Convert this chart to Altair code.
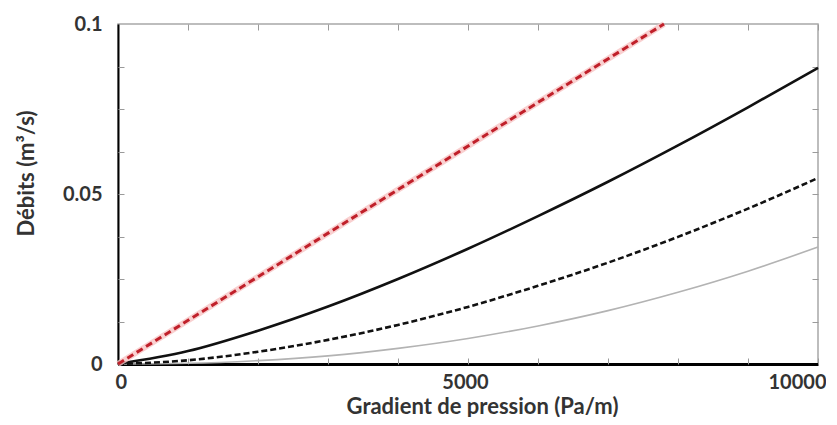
import altair as alt
import pandas as pd

# Pressure gradient (Pa/m)
x_vals = [0, 1000, 2000, 3000, 4000, 5000, 6000, 7000, 8000, 9000, 10000]
# Flow rates (m3/s)
q_solid = [0, 0.0038, 0.0098, 0.0169, 0.0250, 0.0339, 0.0435, 0.0536, 0.0643, 0.0755, 0.0871]
q_dashed = [0, 0.0011, 0.0036, 0.0071, 0.0115, 0.0168, 0.0230, 0.0298, 0.0374, 0.0457, 0.0547]
q_gray = [0, 0.0002, 0.0010, 0.0024, 0.0046, 0.0075, 0.0112, 0.0157, 0.0211, 0.0273, 0.0344]
red_x = [0, 7800]
red_q = [0, 0.1]

x_ticks = [0, 1000, 2000, 3000, 4000, 5000, 6000, 7000, 8000, 9000, 10000]
x_labels = [0, 5000, 10000]
y_ticks = [0.0125, 0.025, 0.0375, 0.05, 0.0625, 0.075, 0.0875]
y_labels = [0, 0.05, 0.1]

df = pd.DataFrame({"x": x_vals, "solid": q_solid, "dashed": q_dashed, "gray": q_gray})
red = pd.DataFrame({"x": red_x, "q": red_q})

FONT = "Lato"
TXT = "#333333"
TICK = "#9a9a9a"

xs = alt.Scale(domain=[0, 10000], nice=False, zero=False)
ys = alt.Scale(domain=[0, 0.1], nice=False)

main_x = alt.Axis(
    orient="bottom", values=x_labels, format="d", ticks=False, tickSize=0, grid=False,
    domainColor="black", domainWidth=3,
    labelFont=FONT, labelFontSize=20, labelFontWeight="bold", labelColor=TXT,
    labelPadding=8,
    labelOffset={"condition": {"test": "datum.value == 10000", "value": 8}, "value": -3},
    title="Gradient de pression (Pa/m)", titleFont=FONT, titleFontSize=22,
    titleFontWeight="bold", titleColor=TXT, titlePadding=4, titleX=364,
)
main_y = alt.Axis(
    orient="left", values=y_labels, format=".2~f", ticks=False, tickSize=0, grid=False,
    domainColor="black", domainWidth=2,
    labelFont=FONT, labelFontSize=20, labelFontWeight="bold", labelColor=TXT,
    labelPadding=16,
    title="Débits (m³/s)", titleFont=FONT, titleFontSize=22,
    titleFontWeight="bold", titleColor=TXT, titlePadding=24, titleY=149,
)


def tick_axis(orient, vals):
    return alt.Axis(orient=orient, values=vals, offset=-6, tickSize=6, tickColor=TICK,
                    tickWidth=1, domain=False, labels=False, grid=False, title="")


gray = alt.Chart(df).mark_line(color="#b3b3b3", strokeWidth=1.6, interpolate="monotone").encode(
    x=alt.X("x:Q", scale=xs, axis=main_x),
    y=alt.Y("gray:Q", scale=ys, axis=main_y),
)
dashed = alt.Chart(df).mark_line(color="#111111", strokeWidth=2.6, strokeDash=[6, 3],
                                 interpolate="monotone").encode(
    x=alt.X("x:Q", scale=xs, axis=tick_axis("bottom", x_ticks)),
    y=alt.Y("dashed:Q", scale=ys, axis=tick_axis("left", y_ticks)),
)
solid = alt.Chart(df).mark_line(color="#111111", strokeWidth=2.6, interpolate="monotone").encode(
    x=alt.X("x:Q", scale=xs, axis=tick_axis("top", x_ticks)),
    y=alt.Y("solid:Q", scale=ys, axis=tick_axis("right", y_ticks)),
)
red_halo = alt.Chart(red).mark_line(color="#f7c4c4", strokeWidth=6, opacity=0.8).encode(
    x=alt.X("x:Q", scale=xs, axis=None),
    y=alt.Y("q:Q", scale=ys, axis=None),
)
red_line = alt.Chart(red).mark_line(color="#c0202a", strokeWidth=3, strokeDash=[7, 4]).encode(
    x=alt.X("x:Q", scale=xs, axis=None),
    y=alt.Y("q:Q", scale=ys, axis=None),
)

chart = (
    alt.layer(gray, dashed, solid, red_halo, red_line)
    .resolve_axis(x="independent", y="independent")
    .properties(
        width=700, height=340,
        autosize=alt.AutoSizeParams(type="none"),
        padding={"left": 110, "top": 16, "right": 8, "bottom": 53},
        background="white",
    )
    .configure_view(stroke="#a8a8a8", strokeWidth=1.5)
)

chart.save("out.html", embed_options={"renderer": "svg", "actions": False})
